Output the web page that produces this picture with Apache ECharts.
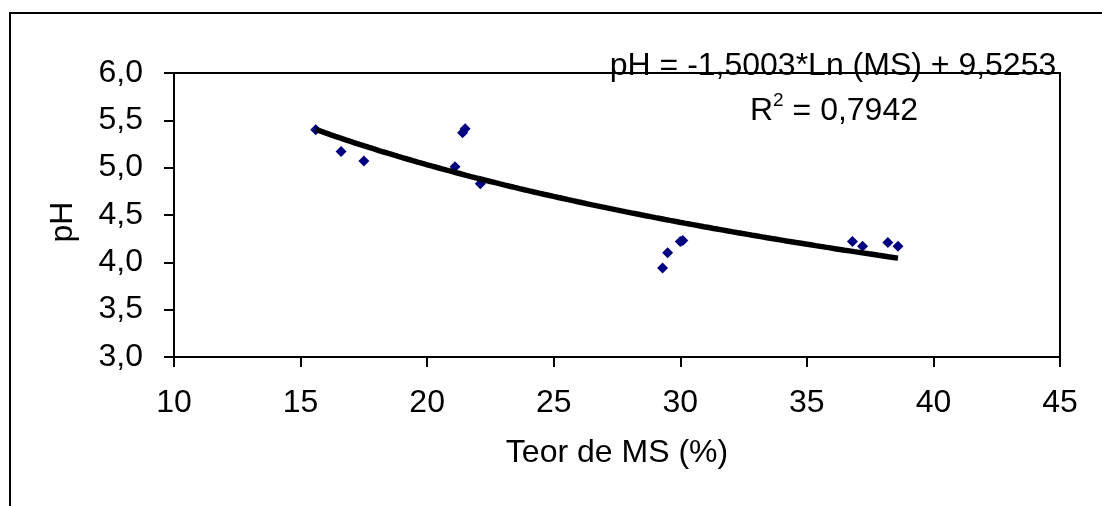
<!DOCTYPE html>
<html>
<head>
<meta charset="utf-8">
<script src="https://cdn.jsdelivr.net/npm/echarts@6/dist/echarts.min.js"></script>
<style>
html,body{margin:0;padding:0;background:#fff;}
#chart{width:1102px;height:506px;}
</style>
</head>
<body>
<div id="chart"></div>
<script>
// Data
const msValues = [15.6, 16.6, 17.5, 21.1, 21.4, 21.5, 22.1, 29.3, 29.5, 30.0, 30.1, 36.8, 37.2, 38.2, 38.6];
const phValues = [5.40, 5.17, 5.07, 5.01, 5.37, 5.41, 4.83, 3.94, 4.10, 4.22, 4.23, 4.22, 4.17, 4.21, 4.17];
// Trend line shown on the chart: pH = -1,5003*Ln(MS) + 9,5253
const trendSlope = -1.5003;
const trendIntercept = 9.5253;
const equationText = 'pH = -1,5003*Ln (MS) + 9,5253';
const r2Value = '0,7942';
const xTitle = 'Teor de MS (%)';
const yTitle = 'pH';

const points = msValues.map((x, i) => [x, phValues[i]]);
const xMin = Math.min(...msValues), xMax = Math.max(...msValues);
const trend = [];
const steps = 120;
for (let i = 0; i <= steps; i++) {
  const x = xMin + (xMax - xMin) * i / steps;
  trend.push([x, trendSlope * Math.log(x) + trendIntercept]);
}

const FONT = "'Liberation Sans', Arial, sans-serif";
const FS = 32;
const chart = echarts.init(document.getElementById('chart'), null, {renderer: 'canvas'});
chart.setOption({
  animation: false,
  backgroundColor: '#ffffff',
  grid: {
    left: 174, right: 42, top: 73, bottom: 149,
    show: true, borderColor: '#000', borderWidth: 2, backgroundColor: 'transparent'
  },
  xAxis: {
    type: 'value', min: 10, max: 45, interval: 5,
    name: xTitle, nameLocation: 'middle', nameGap: 80,
    nameTextStyle: {fontFamily: FONT, fontSize: FS, color: '#000'},
    axisLine: {show: true, onZero: false, lineStyle: {color: '#000', width: 2}},
    axisTick: {show: true, length: 10, lineStyle: {color: '#000', width: 2}},
    axisLabel: {fontFamily: FONT, fontSize: FS, color: '#000', margin: 30},
    splitLine: {show: false}
  },
  yAxis: {
    type: 'value', min: 3, max: 6, interval: 0.5,
    name: yTitle, nameLocation: 'middle', nameGap: 95,
    nameTextStyle: {fontFamily: FONT, fontSize: FS, color: '#000', padding: [0, 14, 0, 0]},
    axisLine: {show: true, onZero: false, lineStyle: {color: '#000', width: 2}},
    axisTick: {show: true, length: 10, lineStyle: {color: '#000', width: 2}},
    axisLabel: {fontFamily: FONT, fontSize: FS, color: '#000', margin: 31,
      formatter: v => v.toFixed(1).replace('.', ',')},
    splitLine: {show: false}
  },
  series: [
    {
      type: 'scatter', data: points, symbol: 'diamond', symbolSize: 11,
      itemStyle: {color: '#000080', opacity: 1}, z: 2
    },
    {
      type: 'line', data: trend, showSymbol: false, symbol: 'none', smooth: false,
      lineStyle: {color: '#000', width: 5.5}, z: 3
    }
  ],
  graphic: [
    {
      type: 'rect', shape: {x: 10, y: 13, width: 1300, height: 700},
      style: {fill: 'none', stroke: '#000', lineWidth: 2}, silent: true
    },
    {
      type: 'text', x: 833, y: 66,
      style: {text: equationText, fontFamily: FONT, fontSize: FS, fill: '#000',
        align: 'center', verticalAlign: 'middle'}
    },
    {
      type: 'text', x: 834, y: 109,
      style: {
        text: '{a|R}{s|2}{a| = ' + r2Value + '}',
        align: 'center', verticalAlign: 'middle',
        rich: {
          a: {fontFamily: FONT, fontSize: FS, fill: '#000', color: '#000', verticalAlign: 'bottom', lineHeight: 36},
          s: {fontFamily: FONT, fontSize: 19, fill: '#000', color: '#000', verticalAlign: 'top', lineHeight: 36, padding: [0, 0, 15, 0]}
        }
      }
    }
  ]
});
</script>
</body>
</html>
